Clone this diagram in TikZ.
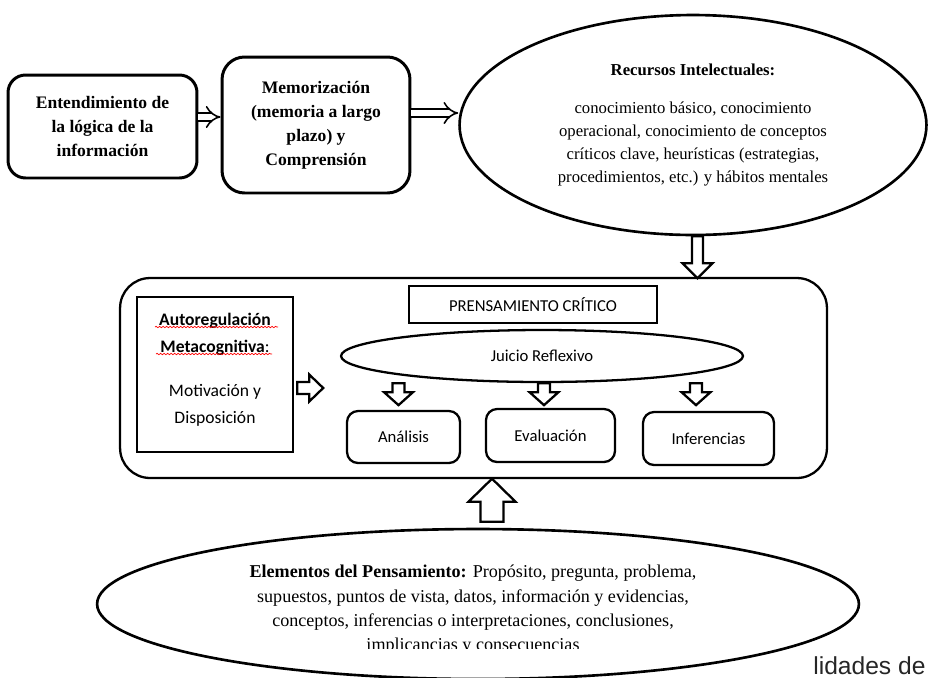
\documentclass[tikz,border=0pt]{standalone}
\usepackage{fontspec}
\setmainfont{Liberation Serif}
\newfontfamily\calibri{Carlito}
\newfontfamily\arialfont{Liberation Sans}
\usetikzlibrary{arrows.meta}
\usetikzlibrary{shapes}
\usetikzlibrary{decorations.pathmorphing}

% tail, angle, length, shaft half width, head half width, head length
\newcommand{\blockarrow}[6]{%
  \draw[blockarr, shift={#1}, rotate=#2] (0,-#4) -- ({#3-#6},-#4) -- ({#3-#6},-#5)
    -- (#3,0) -- ({#3-#6},#5) -- ({#3-#6},#4) -- (0,#4) -- cycle;}

\begin{document}
\begin{tikzpicture}
      [x=0.02cm, y=-0.02cm,
        topbox/.style={draw, line width=1.7pt, rounded corners=0.35cm, align=center,
          inner sep=0pt, font=\fontsize{10}{13.6}\selectfont\bfseries},
        sbox/.style={draw, line width=1.3pt, rounded corners=0.22cm, inner sep=0pt,
          font=\calibri\fontsize{9.5}{12}\selectfont},
        oval/.style={draw, ellipse, inner sep=0pt},
        dblarr/.style={double, double distance=3.5pt, line width=0.9pt, -{Implies}},
        blockarr/.style={draw, line width=1.3pt, fill=white, line join=miter},
        spell/.style={red, line width=0.4pt, decorate,
          decoration={snake, amplitude=0.4pt, segment length=2pt}}]
  \useasboundingbox (0,0) rectangle (928,677);

  \node[topbox, minimum width=3.78cm, minimum height=2.06cm] (ent) at (102.5,126.5)
    {Entendimiento de\\la lógica de la\\información};
  \node[topbox, minimum width=3.76cm, minimum height=2.72cm, rounded corners=0.45cm]
    (mem) at (316,125) {Memorización\\(memoria a largo\\plazo) y\\Comprensión};
  \node[oval, line width=1.5pt, minimum width=9.34cm, minimum height=4.4cm, align=center,
    font=\fontsize{9.5}{13}\selectfont] (rec) at (693,125)
    {\textbf{Recursos Intelectuales:}\\[8.5pt]
     conocimiento básico, conocimiento\\
     operacional, conocimiento de conceptos\\
     críticos clave, heurísticas (estrategias,\\
     procedimientos, etc.) y hábitos mentales};

  \node[draw, line width=1.3pt, rounded corners=0.6cm, minimum width=14.14cm,
    minimum height=4cm] (main) at (473.5,378) {};
  \node[draw, line width=1.4pt, minimum width=3.12cm, minimum height=3.1cm, align=center,
    font=\calibri\fontsize{10}{15.3}\selectfont] (auto) at (215,374.5)
    {\textbf{Autoregulación}\\\textbf{Metacognitiva}:\\[10pt]Motivación y\\Disposición\\[-8.5pt]\mbox{}};
  \node[draw, line width=1.4pt, minimum width=4.96cm, minimum height=0.74cm,
    font=\calibri\fontsize{9.5}{12}\selectfont] (pc) at (533,304.5) {PRENSAMIENTO CRÍTICO};
  \node[oval, line width=1.3pt, minimum width=8.04cm, minimum height=1.04cm,
    font=\calibri\fontsize{9.5}{12}\selectfont] (jr) at (542,356) {Juicio Reflexivo};
  \node[sbox, minimum width=2.26cm, minimum height=1.04cm] (ana) at (403.5,437) {Análisis};
  \node[sbox, minimum width=2.58cm, minimum height=1.06cm] (eva) at (550.5,435.5) {Evaluación};
  \node[sbox, minimum width=2.62cm, minimum height=1.06cm] (inf) at (708.5,438.5) {Inferencias};

  \node[oval, line width=1.5pt, minimum width=15.24cm, minimum height=3cm] (ele) at (478,604) {};
  \begin{scope}
    \clip (0,0) rectangle (928,648);
    \node[align=center, font=\fontsize{10.3}{13.9}\selectfont] (eletxt) at (473,610)
      {\textbf{Elementos del Pensamiento:} Propósito, pregunta, problema,\\
       supuestos, puntos de vista, datos, información y evidencias,\\
       conceptos, inferencias o interpretaciones, conclusiones,\\
       implicancias y consecuencias};
  \end{scope}
  \node[anchor=base west, inner sep=0pt, text=black!85,
    font=\arialfont\fontsize{14}{16}\selectfont] (cap) at (813,674) {lidades de};

  % spelling marks
  \draw[spell] (155,327) -- (278,327);
  \draw[spell] (156,354) -- (272,354);

  \path ([yshift=0.19cm]ent.east) coordinate (a1);
  \path ([yshift=0.24cm]mem.east) coordinate (a2);
  \draw[dblarr] (a1) -- (a1 -| mem.west);
  \draw[dblarr] (a2) -- (a2 -| rec.west);

  \blockarrow{([xshift=0.09cm]rec.south)}{-90}{42}{5.5}{15}{15}
  \blockarrow{([xshift=0.06cm,yshift=-0.27cm]auto.east)}{0}{26}{6}{13.5}{14}
  \blockarrow{([xshift=-0.1cm]ana.north |- jr.south)}{-90}{22}{6}{14.5}{13}
  \blockarrow{([xshift=-0.13cm]eva.north |- jr.south)}{-90}{22}{6}{14.5}{13}
  \blockarrow{([xshift=-0.25cm]inf.north |- jr.south)}{-90}{22}{6}{14.5}{13}
  \blockarrow{([xshift=0.28cm,yshift=0.12cm]ele.north)}{90}{43}{11.5}{23.5}{23}
\end{tikzpicture}
\end{document}
